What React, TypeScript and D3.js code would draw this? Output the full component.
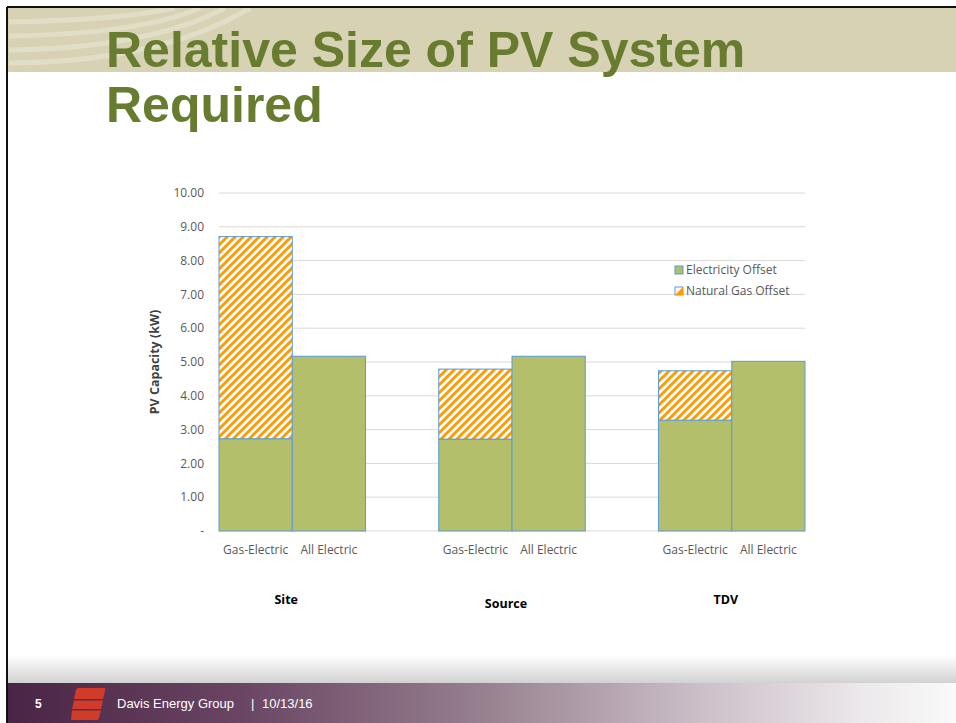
import * as d3 from 'd3'

// chart values
const groups = ["Site", "Source", "TDV"]
const barTypes = ["Gas-Electric", "All Electric"]
const electricityOffset = [2.73, 5.17, 2.72, 5.17, 3.28, 5.02]
const naturalGasOffset = [5.98, 0, 2.07, 0, 1.46, 0]
const yTicks = [0, 1, 2, 3, 4, 5, 6, 7, 8, 9, 10]
const seriesNames = ["Electricity Offset", "Natural Gas Offset"]

const W = 956
const H = 723
const plot = { left: 219, right: 805, top: 193, bottom: 531 }

const GREEN = "#b3bf6b"
const ORANGE = "#ff9c00"
const EDGE = "#5b9bd5"
const TITLE = "#677c2e"
const CHART_FONT = "'Open Sans', 'Noto Sans', sans-serif"
const SLIDE_FONT = "'Liberation Sans', Arial, sans-serif"

// bar slots: each group gets one slot per bar type, with an empty slot between groups
const slots: string[] = []
groups.forEach((g, gi) => {
  barTypes.forEach(t => slots.push(`${g}|${t}`))
  if (gi < groups.length - 1) slots.push(`gap${gi}`)
})
const bars = groups.flatMap((g, gi) =>
  barTypes.map((t, ti) => ({
    key: `${g}|${t}`,
    group: g,
    type: t,
    elec: electricityOffset[gi * barTypes.length + ti],
    gas: naturalGasOffset[gi * barTypes.length + ti],
  }))
)

export default function App() {
  const x = d3.scaleBand<string>().domain(slots).range([plot.left, plot.right]).padding(0)
  const y = d3.scaleLinear().domain([0, 10]).range([plot.bottom, plot.top])
  const bw = x.bandwidth()

  const groupCenter = (g: string) => {
    const a = x(`${g}|${barTypes[0]}`) ?? 0
    return a + bw * barTypes.length / 2
  }

  return (
    <svg width={W} height={H} style={{ position: 'absolute', left: 0, top: 0, background: '#fff' }}>
      <defs>
        <pattern id="gasHatch" width={8} height={8} patternUnits="userSpaceOnUse">
          <rect width={8} height={8} fill="#fff" />
          <path d="M-2,2 L2,-2 M0,8 L8,0 M6,10 L10,6" stroke={ORANGE} strokeWidth={3} />
        </pattern>
        <linearGradient id="footerBand" x1="0" x2="1" y1="0" y2="0">
          <stop offset="0%" stopColor="#4a2444" />
          <stop offset="25%" stopColor="#6a4664" />
          <stop offset="50%" stopColor="#97808f" />
          <stop offset="72%" stopColor="#c9bcc6" />
          <stop offset="90%" stopColor="#ece8eb" />
          <stop offset="100%" stopColor="#fafafa" />
        </linearGradient>
        <linearGradient id="footerShadow" x1="0" x2="0" y1="0" y2="1">
          <stop offset="0%" stopColor="#ffffff" />
          <stop offset="100%" stopColor="#d2d2d2" />
        </linearGradient>
      </defs>

      {/* slide frame and title band */}
      <rect x={0} y={0} width={W} height={H} fill="#fff" />
      <rect x={8} y={8} width={W - 8} height={64} fill="#d6d2b3" />
      <g fill="none" stroke="#e3e0cb" strokeWidth={5} opacity={0.9}>
        <path d="M9,22 Q120,20 175,8" />
        <path d="M9,36 Q140,34 200,8" />
        <path d="M9,50 Q150,48 225,8" />
        <path d="M9,63 Q160,62 250,8" />
      </g>
      <line x1={7} y1={7} x2={W} y2={7} stroke="#111" strokeWidth={2} />
      <line x1={7} y1={7} x2={7} y2={H} stroke="#111" strokeWidth={2} />

      <text x={106} y={67} fill={TITLE} fontFamily={SLIDE_FONT} fontWeight="bold" fontSize={50}>
        Relative Size of PV System
      </text>
      <text x={106} y={122} fill={TITLE} fontFamily={SLIDE_FONT} fontWeight="bold" fontSize={50}>
        Required
      </text>

      {/* gridlines and y ticks */}
      <g fontFamily={CHART_FONT} fontSize={12} fill="#595959">
        {yTicks.map(t => (
          <g key={t}>
            <line x1={plot.left} x2={plot.right} y1={y(t)} y2={y(t)} stroke="#d9d9d9" strokeWidth={1} />
            <text x={204} y={y(t)} dy="0.35em" textAnchor="end">
              {t === 0 ? "-" : d3.format(".2f")(t)}
            </text>
          </g>
        ))}
      </g>

      {/* stacked bars */}
      <g>
        {bars.map(b => {
          const x0 = x(b.key) ?? 0
          return (
            <g key={b.key}>
              <rect x={x0} y={y(b.elec)} width={bw} height={y(0) - y(b.elec)} fill={GREEN} stroke={EDGE} strokeWidth={1} />
              {b.gas > 0 && (
                <rect x={x0} y={y(b.elec + b.gas)} width={bw} height={y(b.elec) - y(b.elec + b.gas)}
                  fill="url(#gasHatch)" stroke={EDGE} strokeWidth={1} />
              )}
            </g>
          )
        })}
      </g>

      {/* category labels */}
      <g fontFamily={CHART_FONT} fontSize={12} fill="#595959" textAnchor="middle">
        {bars.map(b => (
          <text key={b.key} x={(x(b.key) ?? 0) + bw / 2} y={554}>{b.type}</text>
        ))}
      </g>
      <g fontFamily={CHART_FONT} fontSize={12.5} fontWeight="bold" fill="#000" textAnchor="middle">
        {groups.map((g, i) => (
          <text key={g} x={groupCenter(g) - 6} y={i === 1 ? 608 : 604}>{g}</text>
        ))}
      </g>

      {/* y axis title */}
      <text transform={`translate(159,${(plot.top + plot.bottom) / 2}) rotate(-90)`} textAnchor="middle"
        fontFamily={CHART_FONT} fontSize={12.5} fontWeight="bold" fill="#404040">
        PV Capacity (kW)
      </text>

      {/* legend */}
      <g fontFamily={CHART_FONT} fontSize={12} fill="#595959">
        {seriesNames.map((s, i) => (
          <g key={s} transform={`translate(675,${270 + i * 21})`}>
            <rect x={0} y={-4} width={8} height={8} fill={i === 0 ? GREEN : "#fff"} stroke={EDGE} strokeWidth={1} />
            {i === 1 && <path d="M8,-4 L8,4 L0,4 Z" fill={ORANGE} />}
            <text x={11} y={0} dy="0.35em">{s}</text>
          </g>
        ))}
      </g>

      {/* footer */}
      <rect x={8} y={655} width={W - 8} height={28} fill="url(#footerShadow)" />
      <rect x={8} y={683} width={W - 8} height={H - 683} fill="url(#footerBand)" />
      <text x={35} y={708} fill="#fff" fontFamily={SLIDE_FONT} fontWeight="bold" fontSize={12}>5</text>
      <g fill="#d23a2a">
        <path d="M78,688 L104,688 Q106,688 105,691 L103,699 L74,699 L76,690 Q76.5,688 78,688 Z" />
        <path d="M74,700.5 L103,700.5 L101,709 L72,709 Z" />
        <path d="M72,710.5 L101,710.5 L99,718 Q98.5,720 97,720 L71,720 Z" />
      </g>
      <g fill="#fff" fontFamily={SLIDE_FONT} fontSize={13}>
        <text x={117} y={708}>Davis Energy Group</text>
        <text x={251} y={708}>|</text>
        <text x={262} y={708}>10/13/16</text>
      </g>
    </svg>
  )
}
